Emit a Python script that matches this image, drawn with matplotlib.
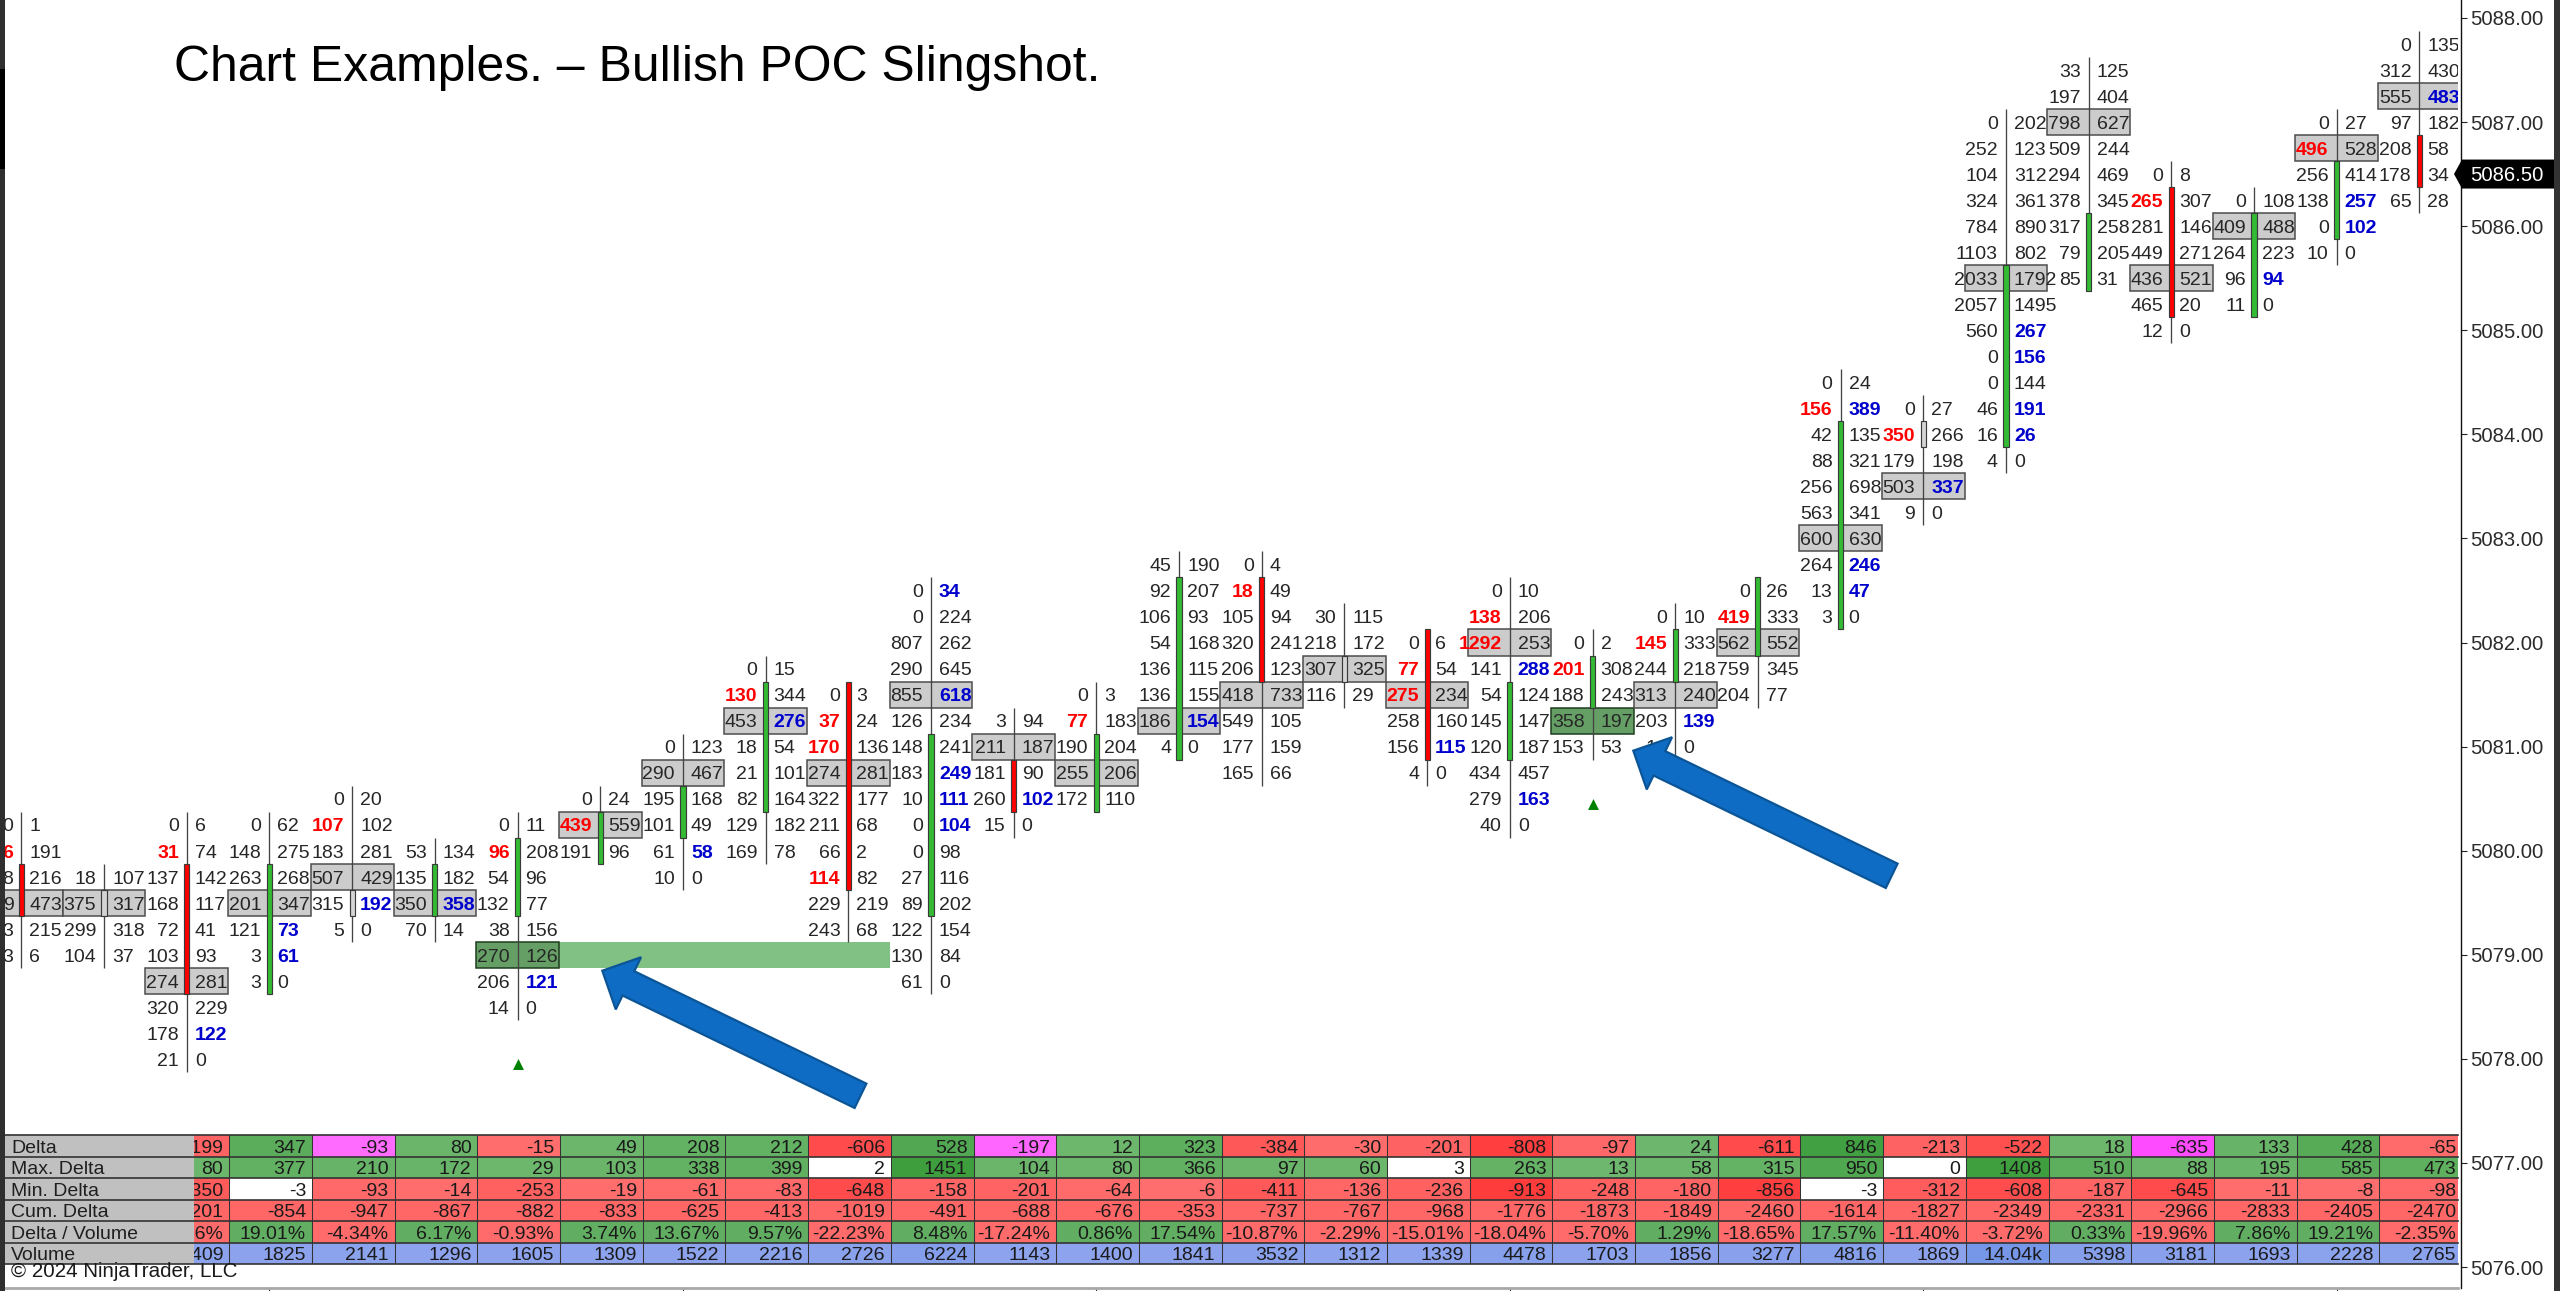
import matplotlib
matplotlib.use("Agg")
import matplotlib.pyplot as plt
from matplotlib.patches import Rectangle, Polygon, FancyArrow

plt.rcParams['font.family'] = ['Liberation Sans', 'DejaVu Sans']

# ---------- data ----------
BAR_TOP = [5080.25, 5079.75, 5080.25, 5080.25, 5080.5, 5080.0, 5080.25, 5080.5, 5081.0, 5081.75,
           5081.5, 5082.5, 5081.25, 5081.5, 5082.75, 5082.75, 5082.25, 5082.0, 5082.5, 5082.0,
           5082.25, 5082.5, 5084.5, 5084.25, 5087.0, 5087.5, 5086.5, 5086.25, 5087.0, 5087.75]
BID = [
 ["0","6","8","9","3","3"],
 ["18","375","299","104"],
 ["0","31","137","168","72","103","274","320","178","21"],
 ["0","148","263","201","121","3","3"],
 ["0","107","183","507","315","5"],
 ["53","135","350","70"],
 ["0","96","54","132","38","270","206","14"],
 ["0","439","191"],
 ["0","290","195","101","61","10"],
 ["0","130","453","18","21","82","129","169"],
 ["0","37","170","274","322","211","66","114","229","243"],
 ["0","0","807","290","855","126","148","183","10","0","0","27","89","122","130","61"],
 ["3","211","181","260","15"],
 ["0","77","190","255","172"],
 ["45","92","106","54","136","136","186","4"],
 ["0","18","105","320","206","418","549","177","165"],
 ["30","218","307","116"],
 ["0","77","275","258","156","4"],
 ["0","138","1292","141","54","145","120","434","279","40"],
 ["0","201","188","358","153"],
 ["0","145","244","313","203","14"],
 ["0","419","562","759","204"],
 ["0","156","42","88","256","563","600","264","13","3"],
 ["0","350","179","503","9"],
 ["0","252","104","324","784","1103","2033","2057","560","0","0","46","16","4"],
 ["33","197","798","509","294","378","317","79","85"],
 ["0","265","281","449","436","465","12"],
 ["0","409","264","96","11"],
 ["0","496","256","138","0","10"],
 ["0","312","555","97","208","178","65"],
]
ASK = [
 ["1","191","216","473","215","6"],
 ["107","317","318","37"],
 ["6","74","142","117","41","93","281","229","122","0"],
 ["62","275","268","347","73","61","0"],
 ["20","102","281","429","192","0"],
 ["134","182","358","14"],
 ["11","208","96","77","156","126","121","0"],
 ["24","559","96"],
 ["123","467","168","49","58","0"],
 ["15","344","276","54","101","164","182","78"],
 ["3","24","136","281","177","68","2","82","219","68"],
 ["34","224","262","645","618","234","241","249","111","104","98","116","202","154","84","0"],
 ["94","187","90","102","0"],
 ["3","183","204","206","110"],
 ["190","207","93","168","115","155","154","0"],
 ["4","49","94","241","123","733","105","159","66"],
 ["115","172","325","29"],
 ["6","54","234","160","115","0"],
 ["10","206","253","288","124","147","187","457","163","0"],
 ["2","308","243","197","53"],
 ["10","333","218","240","139","0"],
 ["26","333","552","345","77"],
 ["24","389","135","321","698","341","630","246","47","0"],
 ["27","266","198","337","0"],
 ["202","123","312","361","890","802","1792","1495","267","156","144","191","26","0"],
 ["125","404","627","244","469","345","258","205","31"],
 ["8","307","146","271","521","20","0"],
 ["108","488","223","94","0"],
 ["27","528","414","257","102","0"],
 ["135","430","483","182","58","34","28"],
]
POC_ROW = [3,1,6,3,3,2,5,1,1,2,3,4,1,3,6,5,2,2,2,3,3,2,6,3,6,2,4,1,1,2]
BODY_FIRST = [2,1,2,2,4,1,1,1,2,1,0,6,2,2,1,1,2,0,4,1,1,0,2,1,6,6,1,1,2,4]
BODY_LAST  = [3,1,6,6,4,2,3,2,3,5,7,12,3,4,7,4,2,4,6,2,2,2,9,1,12,8,5,4,4,5]
BODY_KIND = ["r","n","r","g","n","g","g","g","g","g","r","g","r","g","g","r","n","r","g","g",
             "g","g","g","n","g","g","r","g","g","r"]
RED_BID_ROWS = [[1],[],[1],[],[1],[],[1],[1],[],[1],[1,2,7],[],[],[1],[],[1],[],[1,2],[1,2],[1],
                [1],[1],[1],[1],[],[],[1],[],[1],[]]
BLUE_ASK_ROWS = [[],[],[8],[4,5],[4],[2],[6],[],[4],[2],[],[0,4,7,8,9],[3],[],[6],[],[],[4],[3,8],[],
                 [4],[],[1,7,8],[3],[8,9,11,12],[],[],[3],[3,4],[2]]
SIGNAL_BARS = [6, 19]
SIGNAL_PRICES = [5077.95, 5080.45]
DARK_POC_BARS = [6, 19]
BAND_FROM, BAND_TO, BAND_PRICE = 6, 11, 5079.0
LAST_PRICE = 5086.50
PRICE_TICKS = list(range(5076, 5089))

ROW_LABELS = ["Delta", "Max. Delta", "Min. Delta", "Cum. Delta", "Delta / Volume", "Volume"]
DELTA = [-199,347,-93,80,-15,49,208,212,-606,528,-197,12,323,-384,-30,-201,-808,-97,24,-611,846,-213,-522,18,-635,133,428,-65]
MAX_DELTA = [80,377,210,172,29,103,338,399,2,1451,104,80,366,97,60,3,263,13,58,315,950,0,1408,510,88,195,585,473]
MIN_DELTA = [-350,-3,-93,-14,-253,-19,-61,-83,-648,-158,-201,-64,-6,-411,-136,-236,-913,-248,-180,-856,-3,-312,-608,-187,-645,-11,-8,-98]
CUM_DELTA = [-1201,-854,-947,-867,-882,-833,-625,-413,-1019,-491,-688,-676,-353,-737,-767,-968,-1776,-1873,-1849,-2460,-1614,-1827,-2349,-2331,-2966,-2833,-2405,-2470]
DELTA_PCT = [-8.26,19.01,-4.34,6.17,-0.93,3.74,13.67,9.57,-22.23,8.48,-17.24,0.86,17.54,-10.87,-2.29,-15.01,-18.04,-5.70,1.29,-18.65,17.57,-11.40,-3.72,0.33,-19.96,7.86,19.21,-2.35]
VOLUME = [2409,1825,2141,1296,1605,1309,1522,2216,2726,6224,1143,1400,1841,3532,1312,1339,4478,1703,1856,3277,4816,1869,14040,5398,3181,1693,2228,2765]
MAGENTA_BARS = [4, 12, 26]
WHITE_MAX_BARS = [10, 17, 23]
WHITE_MIN_BARS = [3, 22]
FIRST_TABLE_BAR = 2

TITLE = "Chart Examples. \u2013 Bullish POC Slingshot."
COPYRIGHT = "\u00a9 2024 NinjaTrader, LLC"

# ---------- layout ----------
W, H = 2560, 1291
X0, DX = 21.4, 82.69          # px of bar 0, px per bar
Y_REF, DY = 122.0, 104.1      # px of 5087, px per point
AX_L, AX_R, AX_T, AX_B = 5, 2458, 0, 1288
TB_T, TB_B = 1135, 1264.3
TICK = 0.25
PX_X = 1.0 / DX
PX_Y = 1.0 / DY

def fig_rect(l, r, t, b):
    return [l / W, (H - b) / H, (r - l) / W, (b - t) / H]

def y_px(p):
    return Y_REF + (5087 - p) * DY

fig = plt.figure(figsize=(W / 100, H / 100), dpi=100, facecolor="white")

# ---------- main chart ----------
ax = fig.add_axes(fig_rect(AX_L, AX_R, AX_T, AX_B))
ax.set_xlim((AX_L - X0) / DX, (AX_R - X0) / DX)
ax.set_ylim(5087 - (AX_B - Y_REF) / DY, 5087 + Y_REF / DY)
ax.patch.set_alpha(0)
FS = 14.0
TXT = "#262626"
GREEN, RED, NEUTRAL = "#33bb33", "#ff0000", "#d4d4d4"
BODY_COL = {"g": GREEN, "r": RED, "n": NEUTRAL}
TEXT_OFF = 6.8 * PX_Y
CELL_OFF = 8.0 * PX_X

ax.add_patch(Rectangle((BAND_FROM + 0.5, BAND_PRICE - TICK / 2), BAND_TO - BAND_FROM - 1, TICK,
                       facecolor="#82c184", edgecolor="none", zorder=1))

for i, top in enumerate(BAR_TOP):
    n = len(BID[i])
    p_poc = top - POC_ROW[i] * TICK
    dark = i in DARK_POC_BARS
    ax.add_patch(Rectangle((i - 0.5, p_poc - TICK / 2), 1, TICK,
                           facecolor="#669f66" if dark else "#cccccc",
                           edgecolor="#1f3d1f" if dark else "#4d4d4d",
                           linewidth=1.1, zorder=2))
    ax.plot([i, i], [top + TICK / 2, top - (n - 1) * TICK - TICK / 2],
            color="#444444", lw=0.95, zorder=3, solid_capstyle="butt")
    p1 = top - BODY_FIRST[i] * TICK + TICK / 2
    p2 = top - BODY_LAST[i] * TICK - TICK / 2
    ax.add_patch(Rectangle((i - 2.6 * PX_X, p2), 5.2 * PX_X, p1 - p2,
                           facecolor=BODY_COL[BODY_KIND[i]], edgecolor="#3a3a3a",
                           linewidth=0.85, zorder=4))
    for r in range(n):
        p = top - r * TICK
        red = r in RED_BID_ROWS[i]
        ax.text(i - CELL_OFF, p - TEXT_OFF, BID[i][r], ha="right", va="baseline", fontsize=FS,
                color="#ff0000" if red else TXT, fontweight="bold" if red else "normal",
                zorder=5, clip_on=True)
        blue = r in BLUE_ASK_ROWS[i]
        ax.text(i + CELL_OFF, p - TEXT_OFF, ASK[i][r], ha="left", va="baseline", fontsize=FS,
                color="#0000cc" if blue else TXT, fontweight="bold" if blue else "normal",
                zorder=5, clip_on=True)

ax.scatter(SIGNAL_BARS, SIGNAL_PRICES, marker="^", s=62, color="#008000", linewidths=0, zorder=5)

for s in ("top", "left"):
    ax.spines[s].set_visible(False)
ax.spines["right"].set_position(("outward", 2.7 * 0.72))
ax.spines["right"].set_color("#111111")
ax.spines["right"].set_linewidth(1.0)
ax.spines["bottom"].set_color("#a8a8a8")
ax.spines["bottom"].set_linewidth(2.0)
ax.yaxis.tick_right()
ax.set_yticks(PRICE_TICKS)
ax.set_yticklabels([f"{v:.2f}" for v in PRICE_TICKS], fontsize=14.6, color="#2b2b2b")
ax.tick_params(axis="y", length=4.3, width=0.8, color="#222222", pad=2.2)
ax.set_xticks(range(3, 30, 5))
ax.set_xticklabels([])
ax.tick_params(axis="x", length=2.5, width=0.8, color="#333333")

# ---------- indicator table ----------
tb = fig.add_axes(fig_rect(AX_L, AX_R, TB_T, TB_B))
tb.set_xlim((AX_L - X0) / DX, (AX_R - X0) / DX)
tb.set_ylim(6, 0)
tb.axis("off")

def lerp(a, b, t):
    t = min(1.0, t)
    return tuple((a[k] + (b[k] - a[k]) * t) / 255 for k in range(3))

def shade(v, norm):
    if v < 0:
        return lerp((255, 110, 110), (255, 58, 58), abs(v) / norm)
    return lerp((110, 183, 110), (62, 158, 62), v / norm)

ROWS = [DELTA, MAX_DELTA, MIN_DELTA, CUM_DELTA, DELTA_PCT, VOLUME]
TFS = 14.0
for r, vals in enumerate(ROWS):
    for c, v in enumerate(vals):
        i = c + FIRST_TABLE_BAR
        if r == 0:
            col = lerp((255, 112, 255), (255, 60, 255), abs(v) / 900) if i in MAGENTA_BARS else shade(v, 900)
            s = str(v)
        elif r == 1:
            col = "white" if i in WHITE_MAX_BARS else shade(v, 1450)
            s = str(v)
        elif r == 2:
            col = "white" if i in WHITE_MIN_BARS else shade(v, 950)
            s = str(v)
        elif r == 3:
            col = (1.0, 0.40, 0.40)
            s = str(v)
        elif r == 4:
            col = (0.38, 0.68, 0.38) if v >= 0 else (1.0, 0.415, 0.415)
            s = f"{v:.2f}%"
        else:
            col = lerp((143, 164, 237), (118, 150, 232), v / 14040)
            s = f"{v / 1000:.2f}k" if v >= 10000 else str(v)
        tb.add_patch(Rectangle((i - 0.5 + 1.2 * PX_X, r), 1, 1, facecolor=col, edgecolor="none", zorder=1))
        tb.text(i + 0.5 + 1.2 * PX_X - 6 * PX_X, r + 0.82, s, ha="right", va="baseline", fontsize=TFS,
                color="#1a1a1a", zorder=2, clip_on=True)

label_right = (194 - X0) / DX
label_left = (AX_L - X0) / DX
for r, name in enumerate(ROW_LABELS):
    tb.add_patch(Rectangle((label_left, r), label_right - label_left, 1, facecolor="#c0c0c0",
                           edgecolor="none", zorder=3))
    tb.text((11 - X0) / DX, r + 0.82, name, ha="left", va="baseline", fontsize=TFS, color="#1f1f1f", zorder=4)
for r in range(7):
    tb.plot([label_left, (AX_R - X0) / DX], [r, r], color="#333333", lw=1.2, zorder=3.5, clip_on=False)
for c in range(len(DELTA)):
    xc = c + FIRST_TABLE_BAR + 0.5 + 1.2 * PX_X
    tb.plot([xc, xc], [0, 6], color="#333333", lw=0.75, zorder=2.5)

# ---------- annotations in pixel space ----------
ov = fig.add_axes([0, 0, 1, 1])
ov.set_xlim(0, W)
ov.set_ylim(H, 0)
ov.axis("off")
ov.patch.set_alpha(0)

ARROWS = [((860.5, 1095.8), (602.3, 970.7)), ((1891.7, 875.8), (1633.3, 750.7))]
for (x1, y1), (x2, y2) in ARROWS:
    ov.add_patch(FancyArrow(x1, y1, x2 - x1, y2 - y1, width=27, head_width=58, head_length=29,
                            length_includes_head=True, facecolor="#0f6cc4", edgecolor="#0b5596",
                            linewidth=1.6, zorder=6))

ov.text(174, 81, TITLE, fontsize=35.9, color="black", ha="left", va="baseline", zorder=7)
ov.text(11, 1277, COPYRIGHT, fontsize=14.8, color="#1a1a1a", ha="left", va="baseline", zorder=7)

ly = y_px(LAST_PRICE)
ov.add_patch(Polygon([(2454, ly), (2462, ly - 14.5), (2554, ly - 14.5), (2554, ly + 14.5), (2462, ly + 14.5)],
                     closed=True, facecolor="black", edgecolor="none", zorder=6))
ov.text(2470, ly + 7.2, f"{LAST_PRICE:.2f}", fontsize=14.6, color="white", ha="left", va="baseline", zorder=7)

ov.add_patch(Rectangle((0, 0), 5, H, facecolor="#2f2f2f", edgecolor="none", zorder=6))
ov.add_patch(Rectangle((0, 69), 5, 100, facecolor="#000000", edgecolor="none", zorder=6))
ov.add_patch(Rectangle((2554, 0), 6, H, facecolor="#333333", edgecolor="none", zorder=5))

fig.savefig("out.png", dpi=100, facecolor="white")
